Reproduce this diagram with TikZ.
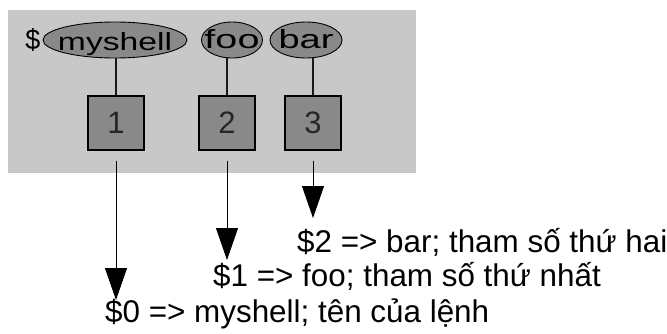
\documentclass[tikz,border=0pt]{standalone}
\usepackage{fontspec}
\setmainfont{Liberation Sans}
\usetikzlibrary{arrows.meta,shapes.geometric}
\definecolor{panel}{RGB}{200,200,200}
\definecolor{cellfill}{RGB}{137,137,137}
% text set inside an oval: given width, height and drop below the centre, taking no room
\newcommand\ovaltext[4]{\raisebox{-#3}[0pt][0pt]{\makebox[0pt]{\resizebox{#1}{#2}{#4}}}}
\begin{document}
\begin{tikzpicture}[x=1pt,y=-1pt,
  argoval/.style={ellipse, draw=black, line width=0.9pt, fill=cellfill,
    inner sep=0pt, minimum height=36pt},
  slot/.style={draw=black, line width=1.6pt, fill=cellfill,
    minimum width=56pt, minimum height=54pt, inner sep=0pt,
    font=\fontsize{31}{31}\selectfont, text=black!85},
  stem/.style={line width=2pt, draw=black!90},
  pointer/.style={line width=0.9pt, -{Triangle[length=32pt,width=22pt]}},
  caption/.style={anchor=base west, inner sep=0pt,
    font=\fontsize{31.4}{31.4}\selectfont}]

\useasboundingbox (0,0) rectangle (667,333);

% grey panel behind the argument row
\fill[panel] (8,10) rectangle (416,173);

% command line words
\node[inner sep=0pt] (dollar) at (33,40) {\resizebox{15pt}{21pt}{\$}};
\node[argoval, minimum width=144pt] (e0) at (115,40) {\ovaltext{114pt}{18pt}{10pt}{myshell}};
\node[argoval, minimum width=61pt]  (e1) at (232,40) {\ovaltext{55pt}{19pt}{8.5pt}{foo}};
\node[argoval, minimum width=72pt]  (e2) at (306,40) {\ovaltext{55pt}{19pt}{8.5pt}{bar}};

% numbered slots
\node[slot] (b1) at (116,123) {1};
\node[slot] (b2) at (227,123) {2};
\node[slot] (b3) at (313,123) {3};

\draw[stem] (b1.north) -- (b1.north |- e0.south);
\draw[stem] (b2.north) -- (b2.north |- e1.south);
\draw[stem] (b3.north) -- (b3.north |- e2.south);

% where each pointer ends
\coordinate (tip0) at (0,300);
\coordinate (tip1) at (0,260);
\coordinate (tip2) at (0,218);

\draw[pointer] ([yshift=-10pt]b1.south) -- (b1.south |- tip0);
\draw[pointer] ([yshift=-10pt]b2.south) -- (b2.south |- tip1);
\draw[pointer] ([yshift=-10pt]b3.south) -- (b3.south |- tip2);

% explanations
\node[caption] (t2) at (297,252) {\$2 => bar; tham số thứ hai};
\node[caption] (t1) at (213,286) {\$1 => foo; tham số thứ nhất};
\node[caption] (t0) at (105,322) {\$0 => myshell; tên của lệnh};
\end{tikzpicture}
\end{document}
